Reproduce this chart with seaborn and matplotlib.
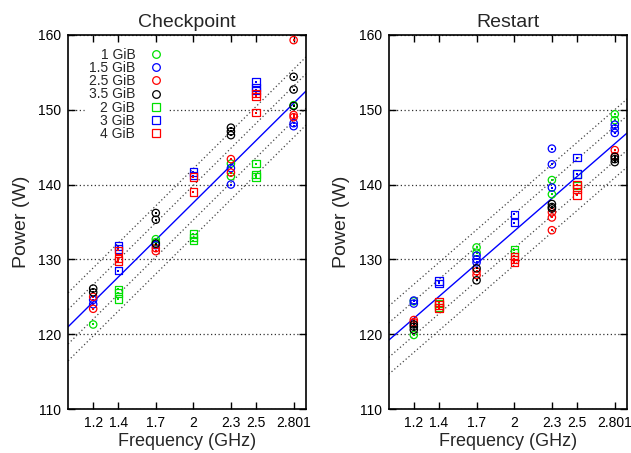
import numpy as np
import pandas as pd
import matplotlib
matplotlib.use("Agg")
import matplotlib.pyplot as plt
from matplotlib.lines import Line2D
import seaborn as sns

# Frequencies at which each memory size was measured
freq_circle = [1.2, 1.7, 2.3, 2.801]
freq_square = [1.4, 2.0, 2.5]
xticks = [1.2, 1.4, 1.7, 2.0, 2.3, 2.5, 2.801]
xtick_labels = ["1.2", "1.4", "1.7", "2", "2.3", "2.5", "2.801"]
yticks = [110, 120, 130, 140, 150, 160]

series_names = ["1 GiB", "1.5 GiB", "2.5 GiB", "3.5 GiB", "2 GiB", "3 GiB", "4 GiB"]
series_colors = ["#00e000", "#0000ff", "#ff0000", "#000000", "#00e000", "#0000ff", "#ff0000"]
series_markers = ["o", "o", "o", "o", "s", "s", "s"]

# Checkpoint power samples (W), one list of repeats per frequency
ckpt_1gib = [[121.3], [132.7, 132.3], [142.8, 141.1], [150.6]]
ckpt_1_5gib = [[124.6, 124.0], [131.9], [142.2, 140.0], [148.2, 147.8]]
ckpt_2_5gib = [[125.0, 123.4], [131.5, 131.1], [143.4, 141.6], [159.3, 149.3, 149.0]]
ckpt_3_5gib = [[126.1, 125.6], [136.2, 135.3, 132.1], [147.6, 147.1, 146.6], [154.4, 152.7, 150.5]]
ckpt_2gib = [[126.0, 125.5, 124.7], [133.4, 132.9, 132.5], [142.8, 141.3, 141.0]]
ckpt_3gib = [[131.8, 131.4, 128.5], [141.7, 141.2], [153.7, 153.0, 152.6]]
ckpt_4gib = [[131.2, 130.1, 129.8], [141.0, 139.0], [152.2, 151.8, 149.6]]

# Restart power samples (W)
rst_1gib = [[124.4, 119.9], [131.6, 130.9], [140.6, 138.7], [149.4, 148.6]]
rst_1_5gib = [[124.5, 124.1], [130.5, 130.0, 129.6], [144.8, 142.7, 139.6], [148.0, 147.5, 146.9]]
rst_2_5gib = [[121.9, 121.6], [128.4, 127.9], [136.3, 135.6, 133.9], [144.6, 143.8]]
rst_3_5gib = [[121.3, 121.0, 120.6], [128.8, 127.2], [137.4, 137.0, 136.8], [143.7, 143.4, 143.0]]
rst_2gib = [[124.1, 123.6], [131.3, 130.9], [141.4, 139.9]]
rst_3gib = [[127.1, 126.8], [136.0, 134.9], [143.6, 141.4]]
rst_4gib = [[124.3, 123.9, 123.5], [130.4, 130.0, 129.6], [140.0, 139.4, 138.6]]

# Linear power model P = intercept + slope * f, with error bands (W)
ckpt_model = [104.42, 16.58]
rst_model = [104.62, 14.58]
band_offsets = [-4.55, -2.3, 2.3, 4.55]

panels = [
    ("Checkpoint", [ckpt_1gib, ckpt_1_5gib, ckpt_2_5gib, ckpt_3_5gib, ckpt_2gib, ckpt_3gib, ckpt_4gib], ckpt_model),
    ("Restart", [rst_1gib, rst_1_5gib, rst_2_5gib, rst_3_5gib, rst_2gib, rst_3gib, rst_4gib], rst_model),
]


def to_frame(series_list):
    rows = []
    for name, marker, samples in zip(series_names, series_markers, series_list):
        freqs = freq_circle if marker == "o" else freq_square
        for f, vals in zip(freqs, samples):
            for v in vals:
                rows.append({"series": name, "freq": f, "power": v})
    return pd.DataFrame(rows)


sns.set_theme(style="ticks")
plt.rcParams["font.family"] = ["Liberation Sans", "DejaVu Sans"]

fig = plt.figure(figsize=(6.31, 4.53), dpi=100)
ax_l = fig.add_axes([0.108, 0.097, 0.377, 0.826])
ax_r = fig.add_axes([0.616, 0.097, 0.378, 0.826])

xline = np.linspace(1.0, 2.9, 50)

for ax, (title, series_list, model) in zip([ax_l, ax_r], panels):
    df = to_frame(series_list)

    fit = model[0] + model[1] * xline
    for off in band_offsets:
        ax.plot(xline, fit + off, color="#444444", ls=(0, (1, 2)), lw=0.9, zorder=2)
    ax.plot(xline, fit, color="#0000ff", lw=1.0, zorder=2)

    for name, color, marker in zip(series_names, series_colors, series_markers):
        sub = df[df["series"] == name]
        sns.scatterplot(data=sub, x="freq", y="power", ax=ax, marker=marker,
                        s=28, color=color, legend=False, zorder=3)
        coll = ax.collections[-1]
        coll.set_facecolor("none")
        coll.set_edgecolor(color)
        coll.set_linewidth(0.9)
        # small center dot
        ax.scatter(sub["freq"], sub["power"], s=1.2, color=color, marker="s",
                   linewidths=0, zorder=3)

    ax.set_xlim(1.0, 2.9)
    ax.set_ylim(110, 160)
    ax.set_xticks(xticks)
    ax.set_xticklabels(xtick_labels)
    ax.set_yticks(yticks)
    ax.tick_params(direction="in", top=True, right=True, length=5, width=1,
                   labelsize=10, pad=5, colors="black")
    for sp in ax.spines.values():
        sp.set_visible(True)
        sp.set_linewidth(1.2)
        sp.set_color("black")
    ax.yaxis.grid(True, ls=(0, (1, 2)), color="#333333", lw=0.9)
    ax.set_axisbelow(True)
    ax.set_title(title, fontsize=14, pad=6)
    ax.set_xlabel("Frequency (GHz)", fontsize=13, labelpad=2)
    ax.set_ylabel("Power (W)", fontsize=14, labelpad=6)

handles = [
    Line2D([], [], marker=m, ls="none", mfc="none", mec=c, mew=0.9, ms=5.5)
    for c, m in zip(series_colors, series_markers)
]
leg = ax_l.legend(handles, series_names, loc="upper left", bbox_to_anchor=(0.04, 0.995),
                  markerfirst=False, frameon=True, fontsize=10, handlelength=1.0,
                  handletextpad=1.0, labelspacing=-0.06, borderpad=0.3)
leg.get_frame().set_facecolor("white")
leg.get_frame().set_edgecolor("white")
leg.get_frame().set_alpha(1.0)
for t in leg.get_texts():
    t.set_ha("right")
leg.set_zorder(5)

fig.savefig("out.png", dpi=100)
